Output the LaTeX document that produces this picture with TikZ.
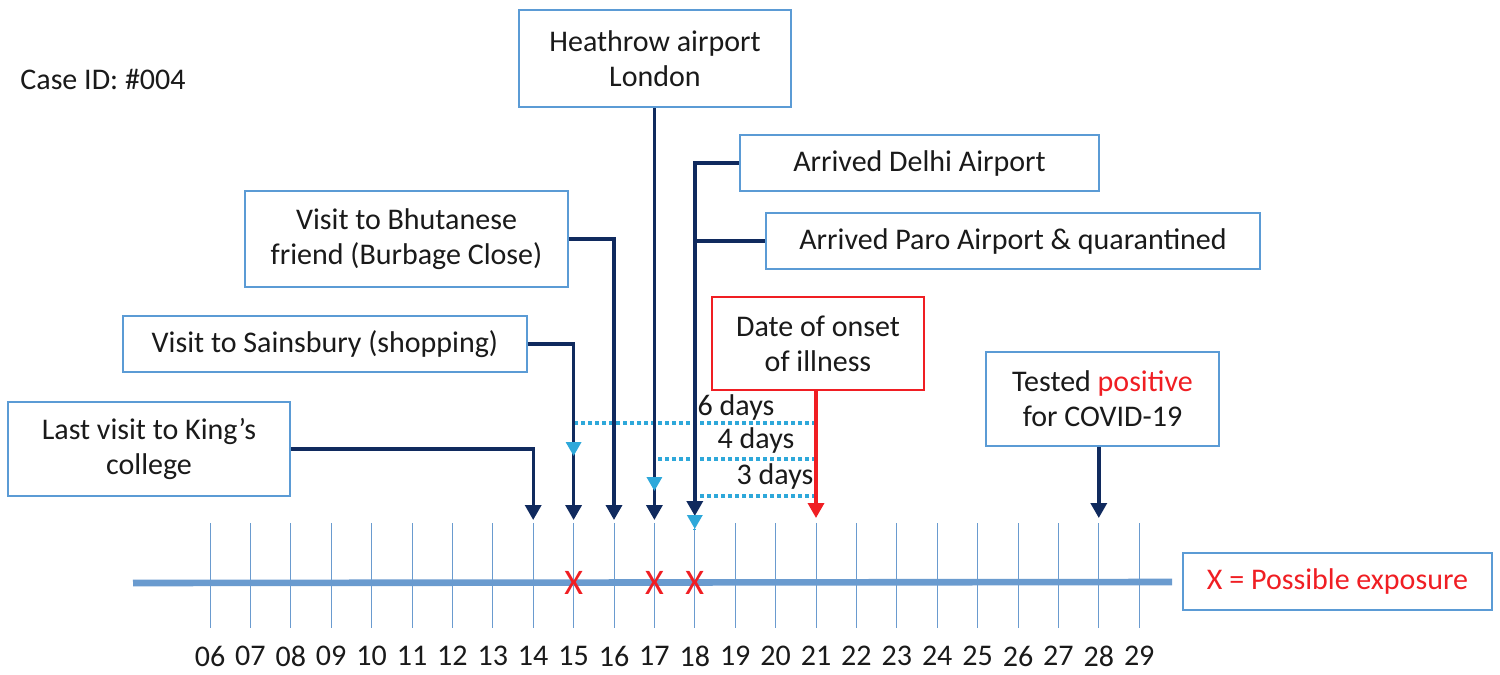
\documentclass[tikz,border=0pt]{standalone}
\usepackage{fontspec}
\setmainfont{Carlito}
\usetikzlibrary{arrows.meta,calc}
\definecolor{boxblue}{HTML}{5B9BD5}
\definecolor{navy}{HTML}{102A5E}
\definecolor{lineblue}{HTML}{6A9BCF}
\definecolor{dotcyan}{HTML}{2EA8DA}
\definecolor{myred}{HTML}{F01E23}
\definecolor{txt}{HTML}{1A1A1A}
\tikzset{
  box/.style={draw=boxblue, line width=1.1pt, fill=white, align=center, text=txt, font=\fontsize{15}{17.5}\selectfont, inner sep=0pt},
  conn/.style={draw=navy, line width=1.7pt},
  arr/.style={conn, -{Triangle[width=8pt,length=7.5pt]}},
  redarr/.style={draw=myred, line width=1.7pt, -{Triangle[width=8pt,length=7.5pt]}},
  dotl/.style={draw=dotcyan, line width=1.6pt, dash pattern=on 2pt off 1.5pt},
  dotarr/.style={dotl, -{Triangle[width=7.5pt,length=7pt]}},
  tick/.style={draw=lineblue, line width=0.5pt},
  daylab/.style={text=txt, font=\fontsize{15}{16}\selectfont, inner sep=0pt},
  xmark/.style={text=myred, font=\fontsize{18}{18}\selectfont, inner sep=0pt},
  lbl/.style={text=txt, font=\fontsize{15}{16}\selectfont, inner sep=0pt}
}
\begin{document}
\begin{tikzpicture}[x=0.5pt,y=-0.5pt]
\useasboundingbox[fill=white] (0,0) rectangle (1500,675);

% timeline
\coordinate (tlL) at (133,583);
\coordinate (tlR) at (1172,582);
\foreach \d [count=\i from 0] in {06,07,08,09,10,11,12,13,14,15,16,17,18,19,20,21,22,23,24,25,26,27,28,29}{
  \pgfmathsetmacro{\xx}{210+\i*40.4}
  \coordinate (t\i) at (\xx,523);
  \coordinate (b\i) at (\xx,628);
  \draw[tick] (t\i) -- (b\i);
  \node[daylab] (lab\i) at (\xx,656) {\d};
}
\draw[draw=lineblue, line width=3.3pt] (tlL) -- (tlR);

% day anchor points (arrow tips)
\coordinate (d14) at (533.2,520);
\coordinate (d15) at (573.6,520);
\coordinate (d16) at (614.0,520);
\coordinate (d17) at (654.4,520);
\coordinate (d18) at (694.8,516);
\coordinate (d21) at (816.0,518);
\coordinate (d28) at (1098.8,518);

% text
\node[lbl, anchor=west] (caseid) at (20,79) {Case ID: \#004};

% boxes
\node[box, minimum width=136pt, minimum height=48.5pt] (heath) at (655,58.5) {Heathrow airport\\London};
\node[box, minimum width=179.5pt, minimum height=28pt] (delhi) at (919.5,163) {Arrived Delhi Airport};
\node[box, minimum width=247pt, minimum height=28pt] (paro) at (1013,241) {Arrived Paro Airport \& quarantined};
\node[box, minimum width=161.5pt, minimum height=48pt] (bhut) at (406.5,239) {Visit to Bhutanese\\friend (Burbage Close)};
\node[box, minimum width=202pt, minimum height=28pt] (sains) at (325,344) {Visit to Sainsbury (shopping)};
\node[box, draw=myred, minimum width=106pt, minimum height=46.5pt] (onset) at (818,343.5) {Date of onset\\of illness};
\node[box, minimum width=116.5pt, minimum height=47pt] (tested) at (1102.5,399) {Tested \textcolor{myred}{positive}\\for COVID-19};
\node[box, minimum width=141pt, minimum height=47pt] (kings) at (149,449) {Last visit to King’s\\college};
\node[box, text=myred, minimum width=154.5pt, minimum height=28.5pt] (legend) at (1337.5,581.5) {X = Possible exposure};

% dotted intervals (drawn under the navy lines)
\coordinate (s6) at (816,423);
\coordinate (s4) at (816,459);
\coordinate (s3) at (816,496);
\coordinate (c6) at (573.6,456);
\coordinate (c4) at (654.4,491);
\coordinate (c3) at (694.8,529);
\draw[dotl] (s6) -| (c6);
\draw[dotl] (s4) -| (c4);
\draw[dotl] (s3) -| (c3);

% navy connectors
\draw[arr] (kings.east) -| (d14);
\draw[arr] (sains.east) -| (d15);
\draw[arr] (bhut.east) -| (d16);
\draw[arr] (d17 |- heath.south) -- (d17);
\draw[arr] (delhi.west) -| (d18);
\draw[conn] (paro.west) -- (paro.west -| d18);
\draw[redarr] (d21 |- onset.south) -- (d21);
\draw[arr] (d28 |- tested.south) -- (d28);

% cyan arrowheads on top
\draw[dotarr] ($(c6)+(0,-6)$) -- (c6);
\draw[dotarr] ($(c4)+(0,-6)$) -- (c4);
\draw[dotarr] ($(c3)+(0,-6)$) -- (c3);

\node[lbl] (l6) at (736,407) {6 days};
\node[lbl] (l4) at (756,440) {4 days};
\node[lbl] (l3) at (775,476) {3 days};

% exposure marks
\node[xmark] (x15) at (573.6,583) {X};
\node[xmark] (x17) at (654.4,583) {X};
\node[xmark] (x18) at (694.8,583) {X};
\end{tikzpicture}
\end{document}
